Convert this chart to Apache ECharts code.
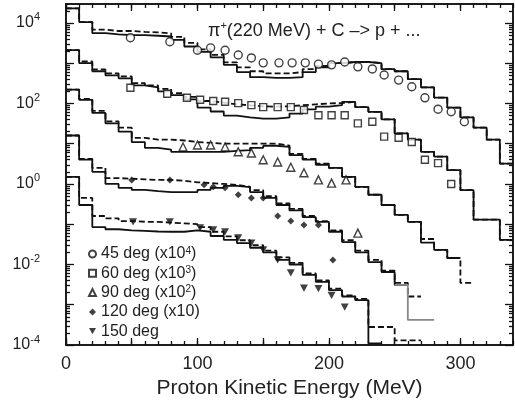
<!DOCTYPE html>
<html>
<head>
<meta charset="utf-8">
<script src="https://cdn.jsdelivr.net/npm/echarts@6/dist/echarts.min.js"></script>
<style>
html, body { margin: 0; padding: 0; background: #fff; }
#chart { width: 515px; height: 406px; }
</style>
</head>
<body>
<div id="chart"></div>
<script>
// histogram bins are 10 MeV wide, starting at 0 MeV; values as plotted (already scaled)
var binWidth = 10;

// 45 deg (x10^4)
var calc45Solid = [23000, 10500, 5600, 5200, 5000, 5000, 4800, 4600, 3800, 2600, 1900, 1400, 910, 600, 450, 430, 430, 450, 600, 790, 1000, 1070, 1070, 1000, 710, 630, 400, 250, 140, 79, 45, 25, 12.6, 3.2];
var calc45Dash = [23000, 10500, 6800, 6300, 6300, 6000, 5800, 5500, 4500, 3200, 2200, 1600, 1050, 790, 630, 560, 560, 600, 710, 850, 1000, 1070, 1070, 1000, 710, 630, 400, 250, 140, 79, 45, 25, 12.6, 3.2];
var exp45E = [49, 79, 100, 110, 121, 131, 141, 150, 162, 172, 182, 192, 202, 212, 222, 233, 242, 253, 263, 273, 283, 293, 303];
var exp45 = [4300, 3400, 2100, 2400, 2100, 1600, 1350, 1020, 1020, 1020, 1020, 950, 910, 1070, 810, 720, 510, 380, 260, 138, 72, 62, 35];

// 60 deg (x10^3)
var calc60Solid = [2100, 1000, 630, 500, 420, 280, 250, 200, 160, 126, 79, 63, 50, 45, 42, 42, 45, 56, 71, 83, 91, 110, 81, 62, 40, 18, 12.6, 6.3, 4.8, 2.2, 0.7, 0.13, 0.13, 0.041];
var calc60Dash = [2100, 1100, 700, 560, 470, 320, 280, 230, 180, 145, 115, 105, 95, 90, 85, 83, 85, 90, 95, 100, 102, 110, 81, 62, 40, 18, 12.6, 6.3, 4.8, 2.2, 0.7, 0.13, 0.13, 0.041];
var exp60E = [49, 77, 92, 102, 112, 121, 131, 141, 150, 161, 171, 181, 192, 202, 212, 222, 233, 242, 253, 263, 273, 283, 293];
var exp60 = [245, 174, 138, 123, 115, 110, 102, 91, 81, 81, 81, 69, 51, 51, 51, 32, 35, 15, 14, 11, 4.0, 3.3, 1.0];

// 90 deg (x10^2)
var calc90Solid = [220, 123, 58, 32, 20, 11, 7.9, 7.1, 6.3, 6.3, 6.3, 6.3, 6.6, 6.9, 7.9, 8.9, 8.3, 5.2, 4.0, 3.0, 2.5, 1.5, 0.85, 0.54, 0.3, 0.17, 0.115, 0.035, 0.023, 0.0145];
var calc90Dash = [220, 130, 65, 36, 25, 14, 12.6, 12.6, 12, 11, 10.5, 10, 10, 10, 10, 10, 9, 5.6, 4.2, 3.2, 2.5, 1.5, 0.85, 0.54, 0.3, 0.17, 0.115, 0.043, 0.023, 0.0145, 0.0035];
var exp90E = [89, 100, 110, 121, 131, 141, 150, 161, 171, 181, 192, 202, 213, 222];
var exp90 = [8.3, 9.3, 9.3, 8.3, 6.3, 5.9, 4.0, 3.5, 2.6, 1.9, 1.26, 1.05, 1.26, 0.06];

// 120 deg (x10)
var calc120Solid = [16, 4.0, 2.0, 1.0, 0.8, 0.71, 0.66, 0.63, 0.63, 0.63, 0.71, 0.8, 0.9, 0.83, 0.63, 0.45, 0.3, 0.22, 0.15, 0.115, 0.065, 0.036, 0.02, 0.0115, 0.0065, 0.0031];
var calc120Dash = [16, 4.2, 2.5, 1.4, 1.35, 1.3, 1.26, 1.26, 1.2, 1.1, 1.05, 1.0, 0.95, 0.85, 0.7, 0.5, 0.33, 0.24, 0.16, 0.12, 0.07, 0.04, 0.022, 0.013, 0.007, 0.0035, 0.0016];
var calc120GreyStart = 250;
var calc120Grey = [0.0031, 0.00042, 0.00042];
var exp120E = [50, 79, 105, 112, 121, 131, 141, 150, 161, 171, 181, 192, 203];
var exp120 = [1.26, 1.26, 0.95, 0.85, 0.8, 0.54, 0.45, 0.45, 0.16, 0.12, 0.095, 0.095, 0.013];

// 150 deg
var calc150Solid = [1.5, 0.3, 0.085, 0.075, 0.07, 0.068, 0.066, 0.065, 0.065, 0.07, 0.065, 0.051, 0.041, 0.034, 0.026, 0.02, 0.013, 0.01, 0.0055, 0.0037, 0.0023, 0.0016, 0.0013, 0.00011];
var calc150Dash = [1.5, 0.45, 0.16, 0.14, 0.12, 0.115, 0.115, 0.11, 0.105, 0.1, 0.085, 0.065, 0.05, 0.04, 0.03, 0.022, 0.015, 0.011, 0.006, 0.004, 0.0025, 0.0017, 0.0014, 0.00028, 0.00028, 0.00013, 0.00013];
var exp150E = [51, 79, 102, 112, 121, 131, 141, 150, 161, 171, 181, 192, 202, 212];
var exp150 = [0.115, 0.115, 0.081, 0.072, 0.065, 0.046, 0.034, 0.023, 0.013, 0.0062, 0.0026, 0.0025, 0.0017, 0.00087];

// axis ticks / labels
var xLabels = [0, 100, 200, 300];
var xMajorTicks = [0, 50, 100, 150, 200, 250, 300];
var xMinorTicks = [];
for (var t = 0; t <= 340; t += 10) xMinorTicks.push(t);
var yLabelExps = [-4, -2, 0, 2, 4];
var yDecades = [-4, -3, -2, -1, 0, 1, 2, 3, 4];

var legendNames = {
    '45': '45 deg (x10{s|4})',
    '60': '60 deg (x10{s|3})',
    '90': '90 deg (x10{s|2})',
    '120': '120 deg (x10)',
    '150': '150 deg'
};

var FONT = 'Liberation Sans, Arial, Helvetica, sans-serif';
var INK = '#111';
// downward triangle (legend ignores symbolRotate)
var DOWN_TRI = 'path://M0,0 L10,0 L5,9 Z';

// log axis done on log10 values
function lg(v) {
    return Math.log10(v);
}

var yMinorTicks = [];
yDecades.forEach(function (d) {
    for (var k = 2; k <= 9; k++) {
        var v = d + lg(k);
        if (v < 4.47) yMinorTicks.push(v);
    }
});

function histo(vals, start) {
    start = start || 0;
    var pts = [];
    for (var i = 0; i < vals.length; i++) {
        pts.push([start + i * binWidth, lg(vals[i])]);
    }
    pts.push([start + vals.length * binWidth, lg(vals[vals.length - 1])]);
    return pts;
}

function stepLine(vals, dashed, color, start) {
    return {
        type: 'line',
        step: 'end',
        data: histo(vals, start),
        symbol: 'none',
        silent: true,
        lineStyle: {color: color || INK, width: 1.8, type: dashed ? [6, 3] : 'solid'},
        z: 2
    };
}

function points(name, es, vals, symbol, size, filled) {
    return {
        type: 'scatter',
        name: name,
        data: es.map(function (e, i) { return [e, lg(vals[i])]; }),
        symbol: symbol,
        symbolSize: size,
        symbolKeepAspect: true,
        itemStyle: filled ? {color: INK} : {color: '#fff', borderColor: INK, borderWidth: 1.4},
        z: 5
    };
}

function xAx(pos, ticks, len, labels) {
    var ax = {
        type: 'value', position: pos, min: 0, max: 340,
        axisLine: {show: true, onZero: false, lineStyle: {color: INK, width: 1.5}},
        axisTick: {show: true, inside: true, length: len, customValues: ticks, lineStyle: {color: INK, width: 1.3}},
        axisLabel: {show: false},
        splitLine: {show: false}
    };
    if (labels) {
        ax.axisLabel = {show: true, customValues: xLabels, fontSize: 18, color: '#222', fontFamily: FONT, margin: 10};
        ax.name = 'Proton Kinetic Energy (MeV)';
        ax.nameLocation = 'middle';
        ax.nameGap = 33;
        ax.nameTextStyle = {fontSize: 21, color: '#222', fontFamily: FONT};
    }
    return ax;
}

function yAx(pos, ticks, len, labels) {
    var ax = {
        type: 'value', position: pos, min: -4, max: 4.47,
        axisLine: {show: true, onZero: false, lineStyle: {color: INK, width: 1.5}},
        axisTick: {show: true, inside: true, length: len, customValues: ticks, lineStyle: {color: INK, width: 1.3}},
        axisLabel: {show: false},
        splitLine: {show: false}
    };
    if (labels) {
        ax.axisLabel = {
            show: true, customValues: yLabelExps, margin: 26,
            formatter: function (v) { return '{b|10}{s|' + Math.round(v) + '}'; },
            rich: {
                b: {fontSize: 16, color: '#222', fontFamily: FONT, lineHeight: 22},
                s: {fontSize: 11, color: '#222', fontFamily: FONT, verticalAlign: 'top'}
            }
        };
    }
    return ax;
}

var chart = echarts.init(document.getElementById('chart'), null, {renderer: 'canvas'});

var option = {
    animation: false,
    backgroundColor: '#fff',
    grid: {left: 66, right: 2, top: 4, bottom: 61},
    title: {
        text: '{a|π}{s|+}{a|(220 MeV) + C –> p + ...}',
        left: 203, top: 15,
        textStyle: {
            fontWeight: 'normal',
            rich: {
                a: {fontSize: 18, fontWeight: 'normal', color: '#222', fontFamily: FONT, lineHeight: 22},
                s: {fontSize: 11, fontWeight: 'normal', color: '#222', fontFamily: FONT, verticalAlign: 'top'}
            }
        }
    },
    legend: {
        orient: 'vertical', left: 83, top: 241,
        itemWidth: 7, itemHeight: 7, itemGap: 3.3,
        selectedMode: false,
        data: ['45', '60', '90', '120', '150'],
        formatter: function (n) { return legendNames[n]; },
        textStyle: {
            fontSize: 16, color: '#222', fontFamily: FONT, lineHeight: 16,
            rich: {s: {fontSize: 10, color: '#222', fontFamily: FONT, verticalAlign: 'top'}}
        }
    },
    xAxis: [
        xAx('bottom', xMinorTicks, 4, true),
        xAx('bottom', xMajorTicks, 7, false),
        xAx('top', xMinorTicks, 4, false),
        xAx('top', xMajorTicks, 7, false)
    ],
    yAxis: [
        yAx('left', yDecades, 8, true),
        yAx('left', yMinorTicks, 4, false),
        yAx('right', yDecades, 8, false),
        yAx('right', yMinorTicks, 4, false)
    ],
    series: [
        stepLine(calc45Solid, false),
        stepLine(calc45Dash, true),
        stepLine(calc60Solid, false),
        stepLine(calc60Dash, true),
        stepLine(calc90Solid, false),
        stepLine(calc90Dash, true),
        stepLine(calc120Solid, false),
        stepLine(calc120Dash, true),
        stepLine(calc120Grey, false, '#888', calc120GreyStart),
        stepLine(calc150Solid, false),
        stepLine(calc150Dash, true),
        points('45', exp45E, exp45, 'circle', 8, false),
        points('60', exp60E, exp60, 'rect', 7, false),
        points('90', exp90E, exp90, 'triangle', 8, false),
        points('120', exp120E, exp120, 'diamond', 7, true),
        points('150', exp150E, exp150, DOWN_TRI, 8, true)
    ]
};

chart.setOption(option);
</script>
</body>
</html>
